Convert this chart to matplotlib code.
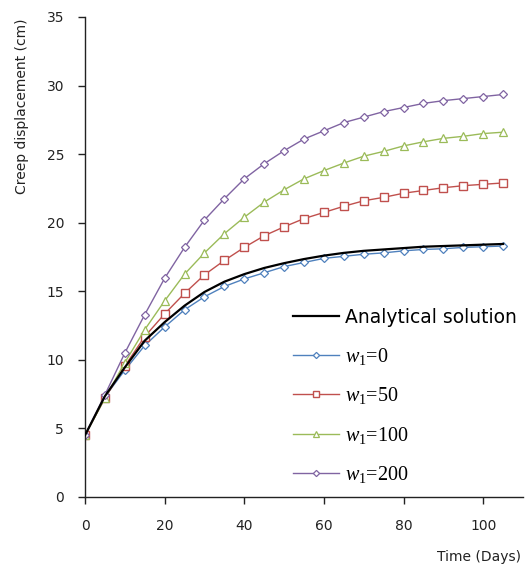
import matplotlib
matplotlib.use("Agg")
import matplotlib.pyplot as plt

days = [0, 5, 10, 15, 20, 25, 30, 35, 40, 45, 50, 55, 60, 65, 70, 75, 80, 85, 90, 95, 100, 105]
analytical = [4.5, 7.35, 9.45, 11.4, 12.75, 13.95, 14.95, 15.7, 16.25, 16.7, 17.05, 17.35,
              17.6, 17.8, 17.95, 18.05, 18.15, 18.25, 18.3, 18.35, 18.4, 18.45]
w0 = [4.5, 7.3, 9.25, 11.05, 12.4, 13.65, 14.6, 15.35, 15.9, 16.35, 16.8, 17.1,
      17.4, 17.55, 17.7, 17.8, 17.95, 18.05, 18.1, 18.2, 18.25, 18.3]
w50 = [4.5, 7.2, 9.55, 11.7, 13.35, 14.85, 16.2, 17.25, 18.2, 19.05, 19.7, 20.3,
       20.75, 21.2, 21.6, 21.85, 22.15, 22.35, 22.55, 22.7, 22.8, 22.9]
w100 = [4.5, 7.2, 9.8, 12.2, 14.3, 16.25, 17.8, 19.2, 20.4, 21.5, 22.4, 23.2,
        23.8, 24.35, 24.85, 25.2, 25.6, 25.9, 26.15, 26.3, 26.5, 26.6]
w200 = [4.5, 7.45, 10.5, 13.3, 15.95, 18.2, 20.2, 21.75, 23.2, 24.3, 25.25, 26.1,
        26.7, 27.3, 27.7, 28.1, 28.4, 28.7, 28.9, 29.05, 29.2, 29.35]
labels = ["Analytical solution", r"$w_{\mathit{1}}$=0", r"$w_{\mathit{1}}$=50",
          r"$w_{\mathit{1}}$=100", r"$w_{\mathit{1}}$=200"]
x_ticks = [0, 20, 40, 60, 80, 100]
y_ticks = [0, 5, 10, 15, 20, 25, 30, 35]

plt.rcParams['mathtext.fontset'] = 'custom'
plt.rcParams['mathtext.it'] = 'Liberation Serif:italic'
plt.rcParams['mathtext.rm'] = 'Liberation Serif'

fig = plt.figure(figsize=(5.26, 5.66), dpi=100)
ax = fig.add_axes([85/526, 69/566, 438/526, 480/566])

ax.plot(days, analytical, color='black', lw=1.6, label=labels[0], zorder=3)
ax.plot(days, w0, color='#4F81BD', lw=1.0, marker='D', ms=4.5, mfc='white', mec='#4F81BD', mew=0.9, label=labels[1])
ax.plot(days, w50, color='#C0504D', lw=1.0, marker='s', ms=5.5, mfc='white', mec='#C0504D', mew=1.0, label=labels[2])
ax.plot(days, w100, color='#9BBB59', lw=1.0, marker='^', ms=5.5, mfc='white', mec='#9BBB59', mew=0.9, label=labels[3])
ax.plot(days, w200, color='#8064A2', lw=1.0, marker='D', ms=4.5, mfc='white', mec='#8064A2', mew=0.9, label=labels[4])

ax.set_xlim(0, 110)
ax.set_ylim(0, 35)
ax.set_xticks(x_ticks)
ax.set_yticks(y_ticks)
ax.spines['top'].set_visible(False)
ax.spines['right'].set_visible(False)
for s in ('left', 'bottom'):
    ax.spines[s].set_linewidth(1.0)
    ax.spines[s].set_color('#222222')
ax.tick_params(axis='both', direction='out', length=5, width=1.0, labelsize=10, colors='#222222')
ax.tick_params(axis='x', pad=11)
ax.tick_params(axis='y', pad=10)

fig.text(22/526, 1 - 106/566, "Creep displacement (cm)", rotation=90, ha='center', va='center', fontsize=10, color='#222222')
fig.text(479/526, 1 - 557/566, "Time (Days)", ha='center', va='center', fontsize=10, color='#222222')

leg = ax.legend(loc='upper left', bbox_to_anchor=(200/438, (497-300)/480), frameon=False,
                handlelength=2.3, handletextpad=0.3, labelspacing=0.92, borderaxespad=0,
                markerscale=0.7, fontsize=14.5)
for t in leg.get_texts():
    if t.get_text().startswith("Analytical"):
        t.set_fontsize(13.5)
    else:
        t.set_family('Liberation Serif')

fig.savefig("out.png", dpi=100)
